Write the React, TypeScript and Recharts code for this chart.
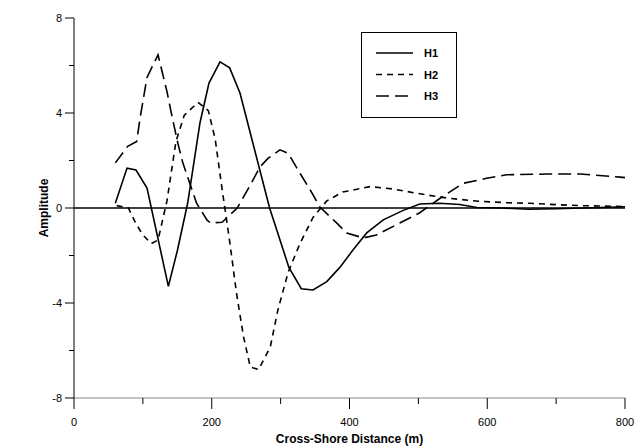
import { LineChart, Line, XAxis, YAxis, ReferenceLine, Legend } from "recharts";

// cross-shore distance (m) / amplitude
const h1Dist = [60, 77, 90, 106, 137, 150, 165, 183, 196, 212, 226, 241, 284, 312, 330, 347, 367, 386, 405, 425, 449, 478, 502, 531, 560, 585, 620, 660, 700, 740, 800];
const h1Amp = [0.2, 1.68, 1.6, 0.84, -3.3, -1.8, 0.2, 3.6, 5.26, 6.15, 5.9, 4.84, 0, -2.5, -3.4, -3.45, -3.1, -2.5, -1.77, -1.05, -0.5, -0.1, 0.17, 0.2, 0.15, 0.02, 0, -0.05, -0.03, 0, 0.05];

const h2Dist = [62, 79, 89, 99, 112, 122, 135, 148, 160, 180, 195, 205, 215, 226, 236, 246, 256, 268, 285, 296, 311, 328, 347, 367, 390, 430, 463, 498, 531, 560, 590, 630, 662, 700, 735, 800];
const h2Amp = [0.1, 0, -0.6, -1.1, -1.5, -1.35, 0.3, 2.8, 3.9, 4.45, 4.1, 2.9, 0.8, -1.4, -3.6, -5.4, -6.7, -6.8, -5.85, -4.3, -2.7, -1.5, -0.4, 0.3, 0.67, 0.9, 0.8, 0.62, 0.46, 0.36, 0.28, 0.22, 0.2, 0.14, 0.1, 0.06];

const h3Dist = [60, 78, 91, 96, 106, 122, 135, 142, 151, 158, 178, 193, 198, 215, 237, 256, 270, 282, 299, 311, 328, 343, 357, 382, 396, 420, 439, 473, 502, 531, 565, 599, 628, 687, 735, 793, 800];
const h3Amp = [1.9, 2.6, 2.8, 3.8, 5.5, 6.45, 4.9, 3.9, 2.7, 1.9, 0.2, -0.5, -0.63, -0.6, 0, 0.97, 1.73, 2.1, 2.45, 2.3, 1.47, 0.76, 0.04, -0.65, -1.05, -1.26, -1.14, -0.63, -0.2, 0.4, 1.04, 1.25, 1.4, 1.43, 1.43, 1.3, 1.28];

const xTicks = [0, 100, 200, 300, 400, 500, 600, 700, 800];
const yTicks = [-8, -6, -4, -2, 0, 2, 4, 6, 8];
const seriesNames = ["H1", "H2", "H3"];
const seriesDash = ["", "6 5", "13 6"];

const toPoints = (xs: number[], ys: number[]) => xs.map((x, i) => ({ x, y: ys[i] }));
const seriesData = [toPoints(h1Dist, h1Amp), toPoints(h2Dist, h2Amp), toPoints(h3Dist, h3Amp)];

const FONT = '"Liberation Sans", Arial, sans-serif';

const XTick = (props: any) => {
  const { x, y, payload } = props;
  const major = payload.value % 200 === 0;
  return (
    <g>
      <line x1={x} y1={y} x2={x} y2={y + (major ? 11 : 6)} stroke="#000" />
      {major && (
        <text x={x} y={y + 28} textAnchor="middle" fontSize={11} fontFamily={FONT} fill="#000">
          {payload.value}
        </text>
      )}
    </g>
  );
};

const YTick = (props: any) => {
  const { x, y, payload } = props;
  const major = payload.value % 4 === 0;
  return (
    <g>
      <line x1={x - (major ? 9 : 5)} y1={y} x2={x} y2={y} stroke="#000" />
      {major && (
        <text x={x - 12} y={y + 4} textAnchor="end" fontSize={11} fontFamily={FONT} fill="#000">
          {payload.value}
        </text>
      )}
    </g>
  );
};

const LegendBox = () => (
  <svg width={96} height={86} style={{ display: "block" }}>
    <rect x={0.5} y={0.5} width={95} height={85} fill="#fff" stroke="#000" />
    {seriesNames.map((name, i) => {
      const ly = 21 + i * 21.5;
      return (
        <g key={name}>
          <line x1={15} y1={ly} x2={52} y2={ly} stroke="#000" strokeWidth={1.6} strokeDasharray={seriesDash[i] || undefined} />
          <text x={63} y={ly + 4} fontSize={11} fontWeight="bold" fontFamily={FONT} fill="#000">
            {name}
          </text>
        </g>
      );
    })}
  </svg>
);

export default function App() {
  return (
    <>
      {/* drop the default body margin so the chart fills the 636x448 page */}
      <style>{"body { margin: 0; }"}</style>
      <LineChart width={636} height={448} margin={{ top: 18, right: 11, bottom: 0, left: 0 }}>
        <XAxis
          dataKey="x"
          type="number"
          domain={[0, 800]}
          ticks={xTicks}
          interval={0}
          tick={<XTick />}
          tickLine={false}
          tickSize={0}
          tickMargin={0}
          height={50}
          axisLine={{ stroke: "#888" }}
          allowDuplicatedCategory={false}
          label={{
            value: "Cross-Shore Distance (m)",
            position: "insideBottom",
            offset: 5,
            style: { fontFamily: FONT, fontSize: 12, fontWeight: "bold", fill: "#000" },
          }}
        />
        <YAxis
          type="number"
          domain={[-8, 8]}
          ticks={yTicks}
          interval={0}
          tick={<YTick />}
          tickLine={false}
          tickSize={0}
          tickMargin={0}
          width={74}
          axisLine={{ stroke: "#000" }}
          label={{
            content: () => (
              <text
                x={44}
                y={208}
                transform="rotate(-90 44 208)"
                textAnchor="middle"
                dominantBaseline="central"
                fontSize={12}
                fontWeight="bold"
                fontFamily={FONT}
                fill="#000"
              >
                Amplitude
              </text>
            ),
          }}
        />
        <ReferenceLine y={0} stroke="#000" strokeWidth={1.5} />
        {seriesNames.map((name, i) => (
          <Line
            key={name}
            data={seriesData[i]}
            dataKey="y"
            name={name}
            type="linear"
            stroke="#000"
            strokeWidth={1.6}
            strokeDasharray={seriesDash[i] || undefined}
            dot={false}
            activeDot={false}
            isAnimationActive={false}
          />
        ))}
        <Legend
          layout="vertical"
          align="center"
          verticalAlign="middle"
          content={<LegendBox />}
          wrapperStyle={{ position: "absolute", left: 361, top: 32, width: 96, height: 86 }}
        />
      </LineChart>
    </>
  );
}
